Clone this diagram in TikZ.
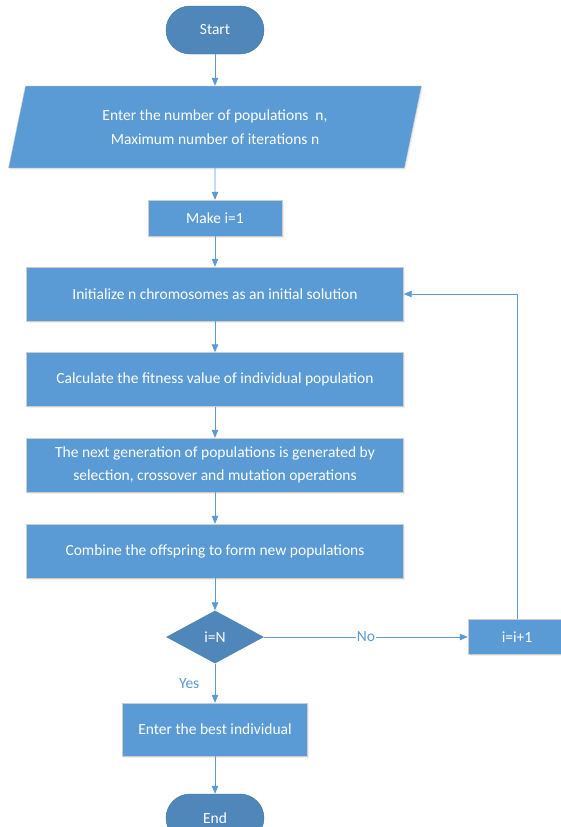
\documentclass[tikz,border=0pt]{standalone}
\usepackage{fontspec}
\setmainfont{Carlito}
\usetikzlibrary{shapes.geometric,arrows.meta,positioning,shadows}
\definecolor{boxblue}{HTML}{5B9BD5}
\definecolor{darkblue}{HTML}{4F87BB}
\definecolor{edgeblue}{HTML}{41719C}

\begin{document}
\begin{tikzpicture}[node distance={86pt},
  every node/.style={font=\fontsize{15.5}{23.5}\selectfont},
  shade/.style={drop shadow={shadow xshift=1.5pt, shadow yshift=-1.5pt, fill=black!12}},
  term/.style={draw=edgeblue, fill=darkblue, text=white, rounded corners=24pt, minimum width=98pt, minimum height=48pt},
  io/.style={trapezium, trapezium left angle=67.5, trapezium right angle=112.5, trapezium stretches body, draw=black!20, fill=boxblue, text=white, minimum width=413pt, minimum height=82pt, align=center, shade},
  proc/.style={draw=black!20, fill=boxblue, text=white, minimum width=377pt, minimum height=54pt, align=center, shade},
  cond/.style={diamond, fill=darkblue, text=white, minimum width=98pt, minimum height=53pt, inner sep=0pt},
  arrow/.style={draw=boxblue, line width=0.8pt, -{Triangle[length=8pt,width=6.5pt]}}]
\useasboundingbox (0,0) rectangle (561pt,-827pt);
\node[term] (start) at (215pt,-30pt) {Start};
\node[io] (input) [below of=start, node distance=97pt] {Enter the number of populations~~n,\\Maximum number of iterations n};
\node[proc, minimum width=134pt, minimum height=36pt] (make) [below of=input, node distance=91pt] {Make i=1};
\node[proc] (init) [below of=make, node distance=76pt] {Initialize n chromosomes as an initial solution};
\node[proc] (calc) [below of=init, node distance=85.5pt] {Calculate the fitness value of individual population};
\node[proc] (next) [below of=calc, node distance=85.5pt] {The next generation of populations is generated by\\selection, crossover and mutation operations};
\node[proc] (comb) [below of=next] {Combine the offspring to form new populations};
\node[cond] (check) [below of=comb] {i=N};
\node[proc, minimum width=98pt, minimum height=35pt] (inc) [right of=check, node distance=302pt] {i=i+1};
\node[proc, minimum width=185pt, minimum height=53pt] (best) [below of=check, node distance=92.5pt] {Enter the best individual};
\node[term] (end) [below of=best, node distance=88.5pt] {End};
\draw[arrow] (start) -- (input);
\draw[arrow] (input.south) -- (make);
\draw[arrow] (make) -- (init);
\draw[arrow] (init) -- (calc);
\draw[arrow] (calc) -- (next);
\draw[arrow] (next) -- (comb);
\draw[arrow] (comb) -- (check);
\draw[arrow] (check) -- node[fill=white, text=boxblue, inner sep=1pt] {No} (inc);
\draw[arrow] (inc.north) |- (init.east);
\draw[arrow] (check) -- node[left=12pt, text=boxblue] {Yes} (best);
\draw[arrow] (best) -- (end);
\end{tikzpicture}
\end{document}
